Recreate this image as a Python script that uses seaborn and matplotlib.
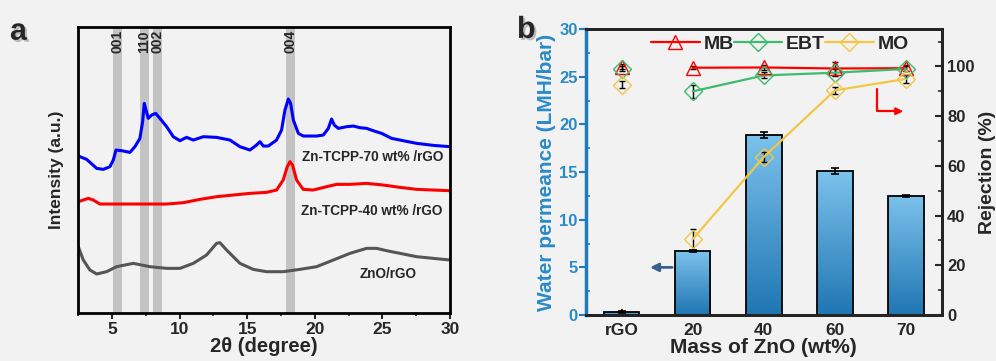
import numpy as np
import matplotlib
matplotlib.use('Agg')
import matplotlib.pyplot as plt
import matplotlib.patheffects as pe
from matplotlib.colors import LinearSegmentedColormap
from matplotlib.ticker import MultipleLocator, NullLocator
import seaborn as sns

# ---- panel a: XRD data ----
blue_x = [2.5, 3.12, 3.86, 4.35, 4.84, 5.09, 5.29, 5.71, 6.32, 6.69, 7.06, 7.26, 7.38, 7.51,
          7.68, 7.93, 8.22, 8.54, 9.04, 9.53, 10.02, 10.51, 11.01, 11.75, 12.73, 13.72, 14.46,
          15.2, 15.69, 15.94, 16.19, 16.56, 17.17, 17.54, 17.79, 18.04, 18.21, 18.41, 18.78,
          19.15, 20.13, 20.63, 21.0, 21.24, 21.44, 21.74, 22.35, 22.85, 23.34, 23.83, 24.32,
          24.94, 25.68, 26.54, 27.53, 28.76, 30.0]
blue_y = [472, 462, 435, 432, 440, 460, 490, 488, 483, 500, 525, 575, 630, 610, 585, 595, 600,
          585, 560, 530, 518, 528, 520, 530, 528, 520, 500, 490, 505, 515, 502, 502, 520, 550,
          610, 643, 630, 580, 540, 532, 532, 535, 555, 583, 565, 555, 560, 562, 557, 555, 548,
          540, 525, 518, 510, 504, 500]
red_x = [2.5, 2.87, 3.24, 3.61, 4.1, 6.57, 9.04, 10.27, 11.5, 12.73, 13.97, 15.2, 16.43, 17.17,
         17.66, 17.96, 18.16, 18.35, 18.65, 19.14, 19.88, 20.87, 21.61, 22.6, 23.83, 25.06,
         26.3, 27.53, 28.76, 30.0]
red_y = [335, 340, 345, 340, 328, 328, 328, 332, 342, 350, 355, 360, 363, 370, 400, 440, 455,
         445, 400, 372, 370, 380, 387, 387, 390, 385, 378, 372, 370, 368]
gray_x = [2.5, 2.87, 3.36, 3.86, 4.59, 5.33, 6.57, 7.8, 9.04, 10.02, 11.01, 11.99, 12.73,
          12.98, 13.47, 14.46, 15.44, 16.43, 17.66, 18.9, 20.13, 21.37, 22.6, 23.83, 24.57,
          25.31, 26.3, 27.53, 28.76, 30.0]
gray_y = [200, 160, 130, 118, 125, 140, 150, 140, 135, 135, 150, 175, 210, 212, 190, 150, 132,
          125, 125, 132, 140, 160, 180, 195, 195, 188, 180, 170, 165, 160]
band_centers = [5.37, 7.4, 8.38, 18.21]
band_labels = ['001', '110', '002', '004']
curve_names = ['Zn-TCPP-70 wt% /rGO', 'Zn-TCPP-40 wt% /rGO', 'ZnO/rGO']

# ---- panel b: membrane data ----
mass = ['rGO', '20', '40', '60', '70']
permeance = [0.3, 6.7, 18.9, 15.1, 12.5]
perm_err = [0.1, 0.1, 0.3, 0.3, 0.1]
mb = [99.8, 99.5, 99.6, 99.2, 99.3]
mb_err = [1.0, 0.5, 1.0, 2.5, 1.2]
ebt = [99.0, 90.0, 96.4, 97.5, 99.0]
ebt_err = [1.0, 2.5, 1.2, 1.5, 1.0]
mo = [92.7, 30.5, 63.6, 90.4, 95.0]
mo_err = [1.5, 4.2, 2.0, 1.5, 1.5]

bg = '#f2f2f2'
sns.set_theme(style='ticks')
plt.rcParams['font.family'] = ['Liberation Sans', 'DejaVu Sans']
plt.rcParams['font.weight'] = 'bold'
plt.rcParams['axes.labelweight'] = 'bold'

fig = plt.figure(figsize=(9.96, 3.61), dpi=100, facecolor=bg)

# ================= panel a =================
ax = fig.add_axes([0.0786, 0.132, 0.3732, 0.794], facecolor=bg)
for c in band_centers:
    ax.axvspan(c - 0.33, c + 0.33, color='#c3c3c3', lw=0, zorder=0)
for c, t in zip(band_centers, band_labels):
    ax.text(c, 850, t, rotation=90, ha='center', va='top', fontsize=10, fontweight='bold')

sns.lineplot(x=blue_x, y=blue_y, ax=ax, color='#0000ff', lw=2.2, sort=False, estimator=None)
sns.lineplot(x=red_x, y=red_y, ax=ax, color='#ff0000', lw=2.2, sort=False, estimator=None)
sns.lineplot(x=gray_x, y=gray_y, ax=ax, color='#555555', lw=2.2, sort=False, estimator=None)
ax.text(24.3, 470, curve_names[0], ha='center', va='center', fontsize=9.8)
ax.text(24.2, 307, curve_names[1], ha='center', va='center', fontsize=9.8)
ax.text(25.4, 117, curve_names[2], ha='center', va='center', fontsize=9.8)

ax.set_xlim(2.5, 30)
ax.set_ylim(0, 860)
ax.xaxis.set_major_locator(MultipleLocator(5))
ax.xaxis.set_minor_locator(MultipleLocator(2.5))
ax.yaxis.set_major_locator(NullLocator())
ax.tick_params(axis='x', which='major', direction='out', length=4, width=1.5, labelsize=12.5, pad=2)
ax.tick_params(axis='x', which='minor', direction='out', length=2.5, width=1.2)
for s in ax.spines.values():
    s.set_linewidth(2)
    s.set_color('black')
ax.set_xlabel('2θ (degree)', fontsize=14.5, labelpad=0)
ax.set_ylabel('Intensity (a.u.)', fontsize=12.5, labelpad=10)

# ================= panel b =================
bx = fig.add_axes([0.5884, 0.1274, 0.357, 0.7917], facecolor=bg)
sns.barplot(x=mass, y=permeance, ax=bx, width=0.5, color='#5aa8dc', edgecolor='black',
            linewidth=1.3, zorder=2)
bx.errorbar(np.arange(len(mass)), permeance, yerr=perm_err, fmt='none', ecolor='black',
            elinewidth=1.2, capsize=3, capthick=1.2, zorder=4)

# gradient fill in each bar
cmap = LinearSegmentedColormap.from_list('bar', ['#1f76b3', '#7cc2ec'])
grad = np.linspace(0, 1, 256).reshape(-1, 1)
for p in bx.patches:
    x0, y0 = p.get_x(), p.get_y()
    w, h = p.get_width(), p.get_height()
    im = bx.imshow(grad, cmap=cmap, origin='lower', aspect='auto',
                   extent=[x0, x0 + w, y0, y0 + h], zorder=2.5)
    im.set_clip_path(p)
    p.set_facecolor('none')
    p.set_zorder(3)

bx.set_xlim(-0.5, 4.5)
bx.set_ylim(0, 30)
bx.set_xlabel('Mass of ZnO (wt%)', fontsize=15, labelpad=0)
bx.set_ylabel('Water permeance (LMH/bar)', fontsize=15, color='#2b8ac6', labelpad=2)
bx.yaxis.set_major_locator(MultipleLocator(5))
bx.yaxis.set_minor_locator(MultipleLocator(2.5))
bx.tick_params(axis='y', which='major', direction='out', length=5, width=1.5, colors='#1f7bbf',
               labelsize=12, labelcolor='#2b8ac6', pad=1)
bx.tick_params(axis='y', which='minor', direction='in', length=3, width=1.2, colors='#1f7bbf')
bx.tick_params(axis='x', direction='in', length=4, width=1.5, labelsize=12.5, pad=6)
for s in bx.spines.values():
    s.set_linewidth(2)
    s.set_color('black')
bx.spines['left'].set_color('#1f7bbf')
bx.spines['left'].set_linewidth(2.5)
bx.annotate('', xy=(0.36, 5.0), xytext=(0.75, 5.0),
            arrowprops=dict(arrowstyle='-|>', color='#3d5f8e', lw=2, mutation_scale=12))

ax2 = bx.twinx()
ax2.set_ylim(0, 115)
ax2.yaxis.set_major_locator(MultipleLocator(20))
ax2.yaxis.set_minor_locator(MultipleLocator(10))
ax2.tick_params(axis='y', which='major', direction='in', length=5, width=1.5, labelsize=12, pad=4)
ax2.tick_params(axis='y', which='minor', direction='in', length=3, width=1.2)
ax2.set_ylabel('Rejection (%)', fontsize=14, labelpad=3)
for s in ax2.spines.values():
    s.set_linewidth(2)
ax2.spines['left'].set_visible(False)

xs = np.arange(len(mass))
series = [('MB', mb, mb_err, '#ff0000', '^'),
          ('EBT', ebt, ebt_err, '#3dbb6f', 'D'),
          ('MO', mo, mo_err, '#f2c744', 'D')]
for name, vals, err, col, mk in series:
    ax2.errorbar(xs, vals, yerr=err, fmt='none', ecolor='black', elinewidth=1, capsize=2.5,
                 capthick=1, zorder=4)
    sns.lineplot(x=xs[1:], y=vals[1:], ax=ax2, color=col, lw=1.6, zorder=5, legend=False)
    ax2.plot(xs, vals, ls='none', marker=mk, ms=10 if mk == '^' else 9, mfc='none',
             mec=col, mew=1, zorder=6)

handles = [plt.Line2D([], [], color=col, lw=1.6, marker=mk, ms=10 if mk == '^' else 9,
                      mfc='none', mec=col) for _, _, _, col, mk in series]
ax2.legend(handles, [s[0] for s in series], loc='upper center', bbox_to_anchor=(0.545, 1.02),
           ncol=3, frameon=False, fontsize=14, handlelength=2.5, handletextpad=0.2,
           columnspacing=0.0, borderaxespad=0.2)

# red arrow pointing to the right axis
ax2.plot([3.59, 3.59, 3.85], [91, 82, 82], color='#ff0000', lw=1.6, zorder=6)
ax2.annotate('', xy=(4.0, 82), xytext=(3.8, 82),
             arrowprops=dict(arrowstyle='-|>', color='#ff0000', lw=1.6, mutation_scale=10))

shadow = [pe.SimplePatchShadow(offset=(1.5, -1.5), shadow_rgbFace='#888888', alpha=0.5), pe.Normal()]
fig.text(0.01, 0.89, 'a', fontsize=22, fontweight='bold', path_effects=shadow)
fig.text(0.519, 0.895, 'b', fontsize=22, fontweight='bold', path_effects=shadow)

fig.savefig('out.png', dpi=100, facecolor=bg)
